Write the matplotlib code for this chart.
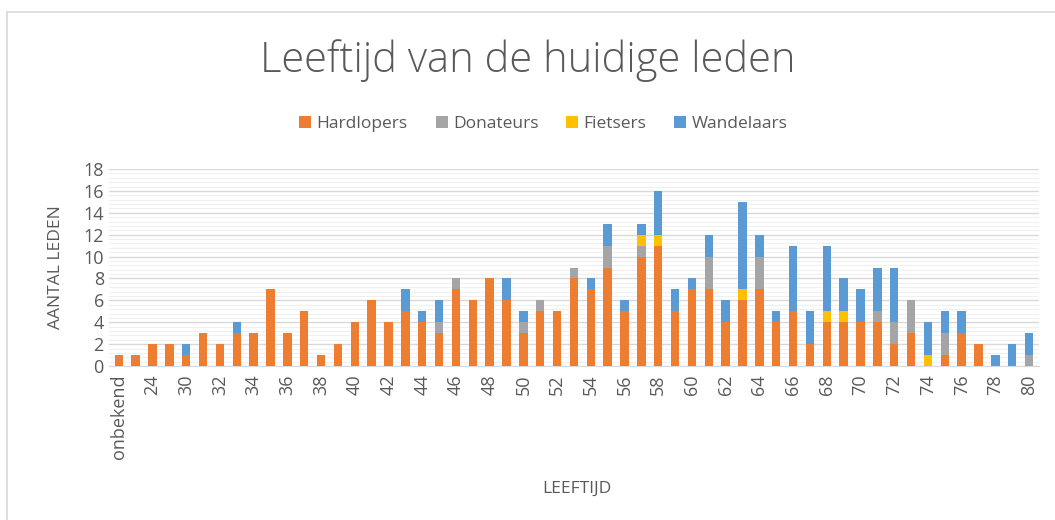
import numpy as np
import matplotlib.pyplot as plt
from matplotlib.lines import Line2D
from matplotlib.ticker import MultipleLocator

plt.rcParams['font.family'] = ['Open Sans', 'DejaVu Sans']

# Categories (ages), every second one gets a label
ages = ['onbekend', '23', '24', '27'] + [str(a) for a in range(30, 81)]

hardlopers = [1, 1, 2, 2, 1, 3, 2, 3, 3, 7, 3, 5, 1, 2, 4, 6, 4, 5, 4, 3,
              7, 6, 8, 6, 3, 5, 5, 8, 7, 9, 5, 10, 11, 5, 7, 7, 4, 6, 7, 4,
              5, 2, 4, 4, 4, 4, 2, 3, 0, 1, 3, 2, 0, 0, 0]
donateurs = [0, 0, 0, 0, 0, 0, 0, 0, 0, 0, 0, 0, 0, 0, 0, 0, 0, 0, 0, 1,
             1, 0, 0, 0, 1, 1, 0, 1, 0, 2, 0, 1, 0, 0, 0, 3, 0, 0, 3, 0,
             0, 0, 0, 0, 0, 1, 2, 3, 0, 2, 0, 0, 0, 0, 1]
fietsers = [0, 0, 0, 0, 0, 0, 0, 0, 0, 0, 0, 0, 0, 0, 0, 0, 0, 0, 0, 0,
            0, 0, 0, 0, 0, 0, 0, 0, 0, 0, 0, 1, 1, 0, 0, 0, 0, 1, 0, 0,
            0, 0, 1, 1, 0, 0, 0, 0, 1, 0, 0, 0, 0, 0, 0]
wandelaars = [0, 0, 0, 0, 1, 0, 0, 1, 0, 0, 0, 0, 0, 0, 0, 0, 0, 2, 1, 2,
              0, 0, 0, 2, 1, 0, 0, 0, 1, 2, 1, 1, 4, 2, 1, 2, 2, 8, 2, 1,
              6, 3, 6, 3, 3, 4, 5, 0, 3, 2, 2, 0, 1, 2, 2]

series = [('Hardlopers', hardlopers, '#ED7D31'),
          ('Donateurs', donateurs, '#A5A5A5'),
          ('Fietsers', fietsers, '#FFC000'),
          ('Wandelaars', wandelaars, '#5B9BD5')]

fig = plt.figure(figsize=(10.55, 5.2), dpi=100)
ax = fig.add_axes([0.103, 0.296, 0.882, 0.379])

x = np.arange(len(ages))
bottom = np.zeros(len(ages))
for name, vals, col in series:
    vals = np.array(vals)
    ax.bar(x, vals, width=0.5, bottom=bottom, color=col, label=name, zorder=3)
    bottom += vals

ax.set_ylim(0, 18)
ax.set_xlim(-0.6, len(ages) - 0.4)
ax.yaxis.set_major_locator(MultipleLocator(2))
ax.yaxis.set_minor_locator(MultipleLocator(0.4))
ax.grid(axis='y', which='major', color='#D9D9D9', linewidth=1.0, zorder=0)
ax.grid(axis='y', which='minor', color='#F0F0F0', linewidth=0.8, zorder=0)

ax.set_xticks(x[::2])
ax.set_xticklabels(ages[::2], rotation=90, fontsize=13, color='#595959')
ax.tick_params(axis='y', labelsize=13, labelcolor='#595959', length=0)
ax.tick_params(axis='y', which='minor', length=0)
ax.tick_params(axis='x', length=0, pad=6)

for s in ['top', 'right', 'left']:
    ax.spines[s].set_visible(False)
ax.spines['bottom'].set_color('#D9D9D9')

ax.set_ylabel('AANTAL LEDEN', fontsize=12.5, color='#595959', labelpad=14)
fig.text(0.547, 0.052, 'LEEFTIJD', fontsize=12.5, color='#595959', ha='center')

fig.suptitle('Leeftijd van de huidige leden', fontsize=30, color='#595959',
             fontweight='light', y=0.925)
fig.legend(loc='center', bbox_to_anchor=(0.515, 0.762), ncol=4, frameon=False,
           fontsize=12.5, handlelength=0.7, handleheight=0.7, handletextpad=0.3,
           columnspacing=1.6, labelcolor='#595959')

# light chart border (top and left)
fig.add_artist(Line2D([0.007, 1.0], [0.977, 0.977], color='#D9D9D9', lw=1.2,
                      transform=fig.transFigure))
fig.add_artist(Line2D([0.007, 0.007], [0.0, 0.977], color='#D9D9D9', lw=1.2,
                      transform=fig.transFigure))

fig.savefig('out.png', dpi=100)
